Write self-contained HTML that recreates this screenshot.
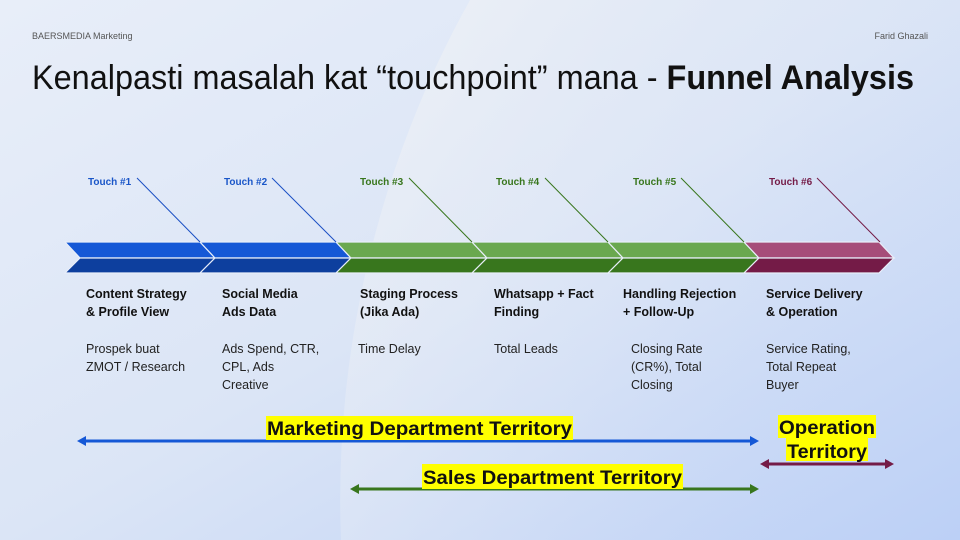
<!DOCTYPE html>
<html><head><meta charset="utf-8"><style>
html,body{margin:0;padding:0;overflow:hidden}
body{width:960px;height:540px;overflow:hidden}
svg{display:block}
svg text{font-family:"Liberation Sans",sans-serif}
</style></head><body>
<svg width="960" height="540" viewBox="0 0 960 540" xmlns="http://www.w3.org/2000/svg">
<defs>
<linearGradient id="bg" x1="0" y1="0" x2="1" y2="1">
<stop offset="0" stop-color="#e8eef9"/><stop offset="0.5" stop-color="#dbe5f6"/><stop offset="1" stop-color="#bcd0f6"/>
</linearGradient>
<linearGradient id="cg" x1="0" y1="0" x2="1" y2="0.6">
<stop offset="0" stop-color="#f1f3f5" stop-opacity="0.9"/><stop offset="0.6" stop-color="#dfe7f5" stop-opacity="0.3"/><stop offset="1" stop-color="#c5d6f6" stop-opacity="0"/>
</linearGradient>
</defs>
<rect width="960" height="540" fill="url(#bg)"/>
<path d="M470,0 A1026,1026 0 0 0 341,540 L960,540 L960,0 Z" fill="url(#cg)"/>
<text x="32" y="39" font-size="9" fill="#555">BAERSMEDIA Marketing</text>
<text x="928" y="39" font-size="9" fill="#555" text-anchor="end">Farid Ghazali</text>
<text x="32" y="89" font-size="34" fill="#111" textLength="882" lengthAdjust="spacingAndGlyphs">Kenalpasti masalah kat “touchpoint” mana - <tspan font-weight="bold">Funnel Analysis</tspan></text>

<g stroke="#e8eef9" stroke-width="1.2">
<polygon points="65,242 200,242 215,258 80,258" fill="#1558d6"/>
<polygon points="80,258 215,258 200,273 65,273" fill="#0d3f9e"/>
<polygon points="200,242 336,242 351,258 215,258" fill="#1558d6"/>
<polygon points="215,258 351,258 336,273 200,273" fill="#0d3f9e"/>
<polygon points="336,242 472,242 487,258 351,258" fill="#6aa84f"/>
<polygon points="351,258 487,258 472,273 336,273" fill="#38761d"/>
<polygon points="472,242 608,242 623,258 487,258" fill="#6aa84f"/>
<polygon points="487,258 623,258 608,273 472,273" fill="#38761d"/>
<polygon points="608,242 744,242 759,258 623,258" fill="#6aa84f"/>
<polygon points="623,258 759,258 744,273 608,273" fill="#38761d"/>
<polygon points="744,242 879,242 894,258 759,258" fill="#a64d79"/>
<polygon points="759,258 894,258 879,273 744,273" fill="#741b47"/>
</g>
<g stroke-width="1">
<line x1="137" y1="178" x2="200" y2="242" stroke="#1a4fc4"/>
<line x1="272" y1="178" x2="336" y2="242" stroke="#1a4fc4"/>
<line x1="409" y1="178" x2="472" y2="242" stroke="#38761d"/>
<line x1="545" y1="178" x2="608" y2="242" stroke="#38761d"/>
<line x1="681" y1="178" x2="744" y2="242" stroke="#38761d"/>
<line x1="817" y1="178" x2="880" y2="242" stroke="#741b47"/>
</g>
<g font-size="10" font-weight="bold">
<text x="88" y="185" fill="#1a56c8">Touch #1</text>
<text x="224" y="185" fill="#1a56c8">Touch #2</text>
<text x="360" y="185" fill="#38761d">Touch #3</text>
<text x="496" y="185" fill="#38761d">Touch #4</text>
<text x="633" y="185" fill="#38761d">Touch #5</text>
<text x="769" y="185" fill="#741b47">Touch #6</text>
</g>
<g font-size="12.5" font-weight="bold" fill="#111">
<text x="86" y="298">Content Strategy</text><text x="86" y="316">&amp; Profile View</text>
<text x="222" y="298">Social Media</text><text x="222" y="316">Ads Data</text>
<text x="360" y="298">Staging Process</text><text x="360" y="316">(Jika Ada)</text>
<text x="494" y="298">Whatsapp + Fact</text><text x="494" y="316">Finding</text>
<text x="623" y="298">Handling Rejection</text><text x="623" y="316">+ Follow-Up</text>
<text x="766" y="298">Service Delivery</text><text x="766" y="316">&amp; Operation</text>
</g>
<g font-size="12.5" fill="#222">
<text x="86" y="353">Prospek buat</text><text x="86" y="371">ZMOT / Research</text>
<text x="222" y="353">Ads Spend, CTR,</text><text x="222" y="371">CPL, Ads</text><text x="222" y="389">Creative</text>
<text x="358" y="353">Time Delay</text>
<text x="494" y="353">Total Leads</text>
<text x="631" y="353">Closing Rate</text><text x="631" y="371">(CR%), Total</text><text x="631" y="389">Closing</text>
<text x="766" y="353">Service Rating,</text><text x="766" y="371">Total Repeat</text><text x="766" y="389">Buyer</text>
</g>
<g>
<line x1="84" y1="441" x2="751" y2="441" stroke="#1558d6" stroke-width="3"/>
<polygon points="77,441 86,436 86,446" fill="#1558d6"/><polygon points="759,441 750,436 750,446" fill="#1558d6"/>
<line x1="357" y1="489" x2="751" y2="489" stroke="#38761d" stroke-width="3"/>
<polygon points="350,489 359,484 359,494" fill="#38761d"/><polygon points="759,489 750,484 750,494" fill="#38761d"/>
<line x1="767" y1="464" x2="887" y2="464" stroke="#741b47" stroke-width="3"/>
<polygon points="760,464 769,459 769,469" fill="#741b47"/><polygon points="894,464 885,459 885,469" fill="#741b47"/>
</g>
<rect x="266" y="416" width="307" height="24" fill="#ffff00"/>
<rect x="422" y="464" width="261" height="25" fill="#ffff00"/>
<rect x="778" y="415" width="98" height="23" fill="#ffff00"/>
<rect x="786" y="438" width="82" height="23" fill="#ffff00"/>
<g font-size="19" font-weight="bold" fill="#111">
<text x="267" y="435" textLength="305" lengthAdjust="spacingAndGlyphs">Marketing Department Territory</text>
<text x="423" y="484" textLength="259" lengthAdjust="spacingAndGlyphs">Sales Department Territory</text>
<text x="827" y="434" text-anchor="middle" textLength="96" lengthAdjust="spacingAndGlyphs">Operation</text>
<text x="827" y="458" text-anchor="middle" textLength="80" lengthAdjust="spacingAndGlyphs">Territory</text>
</g>
</svg>
</body></html>
